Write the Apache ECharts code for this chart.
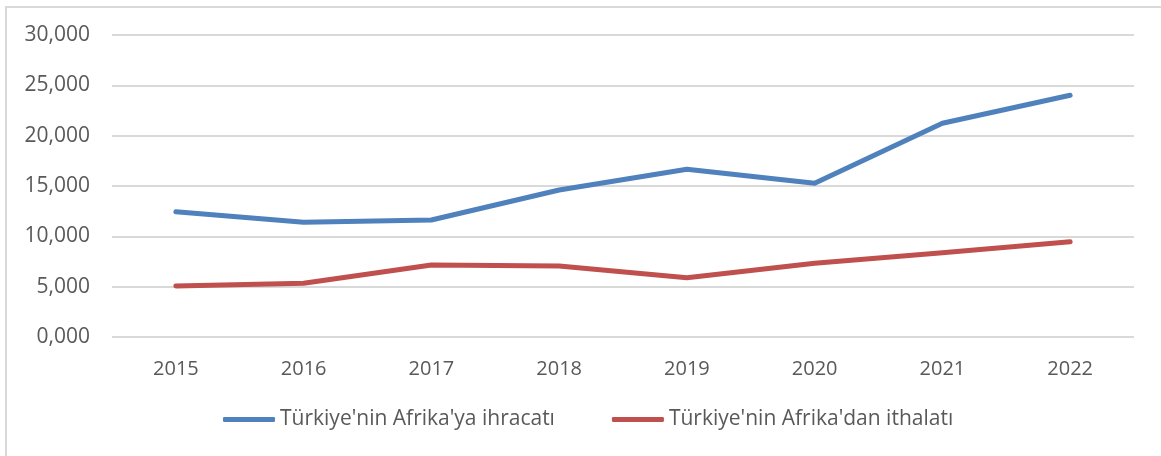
<!DOCTYPE html>
<html>
<head>
<meta charset="utf-8">
<script src="https://cdn.jsdelivr.net/npm/echarts@6/dist/echarts.min.js"></script>
<style>
	html, body { margin: 0; padding: 0; background: #fff; }
	#chart { width: 1161px; height: 456px; }
	.frame {
		position: absolute; left: 5px; top: 6px; right: 0; bottom: 0;
		border-left: 2px solid #d9d9d9; border-top: 2px solid #d9d9d9;
		pointer-events: none;
	}
</style>
</head>
<body>
<div id="chart"></div>
<div class="frame"></div>
<script>
	var years = ['2015', '2016', '2017', '2018', '2019', '2020', '2021', '2022'];
	var exportsAfrica = [12447, 11394, 11623, 14603, 16659, 15268, 21228, 24010];
	var importsAfrica = [5066, 5334, 7152, 7053, 5891, 7321, 8374, 9467];
	var yTickLabels = ['0,000', '5,000', '10,000', '15,000', '20,000', '25,000', '30,000'];

	var font = '"Open Sans", sans-serif';
	var chart = echarts.init(document.getElementById('chart'));
	chart.setOption({
		animation: false,
		grid: { left: 112, right: 27, top: 35, bottom: 119 },
		legend: {
			bottom: 21,
			left: 218,
			itemWidth: 52,
			itemHeight: 5,
			itemGap: 57,
			icon: 'roundRect',
			textStyle: { color: '#595959', fontSize: 21, fontFamily: font },
			data: ["Türkiye'nin Afrika'ya ihracatı", "Türkiye'nin Afrika'dan ithalatı"]
		},
		xAxis: {
			type: 'category',
			data: years,
			boundaryGap: true,
			axisLine: { show: false },
			axisTick: { show: false },
			axisLabel: { color: '#595959', fontSize: 20, fontFamily: font, margin: 22 }
		},
		yAxis: {
			type: 'value',
			min: 0, max: 30000, interval: 5000,
			axisLine: { show: false },
			axisTick: { show: false },
			splitLine: { lineStyle: { color: '#d9d9d9', width: 2 } },
			axisLabel: {
				color: '#595959', fontSize: 21, fontFamily: font, margin: 22,
				formatter: function (v) { return yTickLabels[Math.round(v / 5000)]; }
			}
		},
		series: [{
			name: "Türkiye'nin Afrika'ya ihracatı",
			type: 'line',
			data: exportsAfrica,
			showSymbol: false,
			itemStyle: { color: '#4f81bd' },
			lineStyle: { color: '#4f81bd', width: 5, cap: 'round', join: 'round' }
		}, {
			name: "Türkiye'nin Afrika'dan ithalatı",
			type: 'line',
			data: importsAfrica,
			showSymbol: false,
			itemStyle: { color: '#c0504d' },
			lineStyle: { color: '#c0504d', width: 5, cap: 'round', join: 'round' }
		}]
	});
</script>
</body>
</html>
